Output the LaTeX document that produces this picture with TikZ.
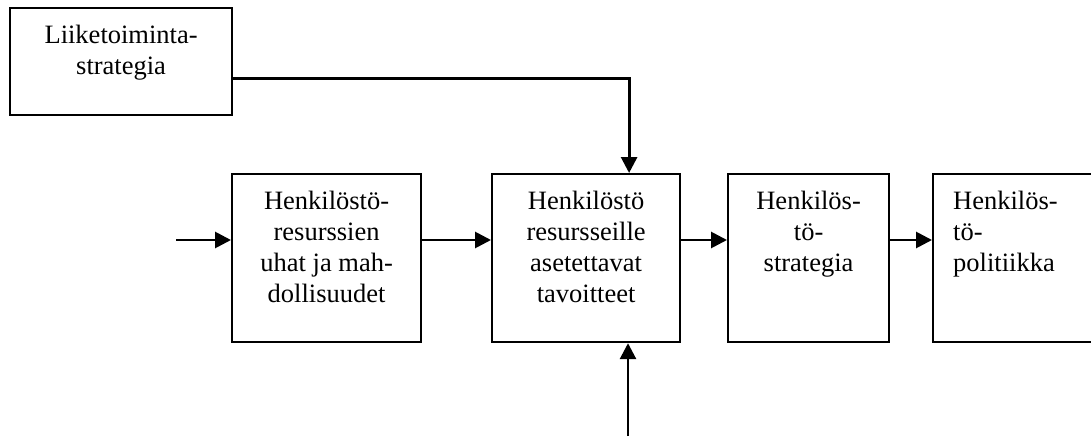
\documentclass[tikz,border=0pt]{standalone}
\usepackage{fontspec}
\setmainfont{Liberation Serif}
\usetikzlibrary{arrows.meta,calc}
\tikzset{
  box/.style={draw, line width=2.2pt, rectangle, inner sep=0pt, anchor=north west},
  lbl/.style={inner sep=0pt, font=\fontsize{26.5}{31}\selectfont},
  arr/.style={line width=2.8pt, -{Triangle[length=16pt,width=16pt]}}
}
\begin{document}
\begin{tikzpicture}[x=1pt,y=-1pt]
\useasboundingbox (0,0) rectangle (1091,436);
\clip (0,0) rectangle (1091,436);
% boxes
\node[box, minimum width=222pt, minimum height=107pt] (A) at (9,7) {};
\node[box, minimum width=189pt, minimum height=168pt] (B) at (231,173) {};
\node[box, minimum width=188pt, minimum height=168pt] (C) at (491,173) {};
\node[box, minimum width=161pt, minimum height=168pt] (D) at (727,173) {};
\node[box, minimum width=200pt, minimum height=168pt] (E) at (932,173) {};
% texts
\node[lbl, anchor=north, align=center] (tA) at ($(A.north)+(0,17.5)$) {Liiketoiminta-\\strategia};
\node[lbl, anchor=north, align=center] (tB) at ($(B.north)+(0,17.5)$) {Henkilöstö-\\resurssien\\uhat ja mah-\\dollisuudet};
\node[lbl, anchor=north, align=center] (tC) at ($(C.north)+(0,17.5)$) {Henkilöstö\\resursseille\\asetettavat\\tavoitteet};
\node[lbl, anchor=north, align=center] (tD) at ($(D.north)+(0,17.5)$) {Henkilös-\\tö-\\strategia};
\node[lbl, anchor=north west, align=left] (tE) at (953,190.5) {Henkilös-\\tö-\\politiikka};
% connectors
\coordinate (bin) at (176,240);
\coordinate (cin) at (628,436);
\draw[arr] ([yshift=-16.5pt]A.east) -| ([xshift=43pt]C.north);
\draw[arr] (cin) -- (cin |- C.south);
\draw[arr] (bin) -- (B.west |- bin);
\draw[arr] (B.east |- bin) -- (C.west |- bin);
\draw[arr] (C.east |- bin) -- (D.west |- bin);
\draw[arr] (D.east |- bin) -- (E.west |- bin);
\end{tikzpicture}
\end{document}
